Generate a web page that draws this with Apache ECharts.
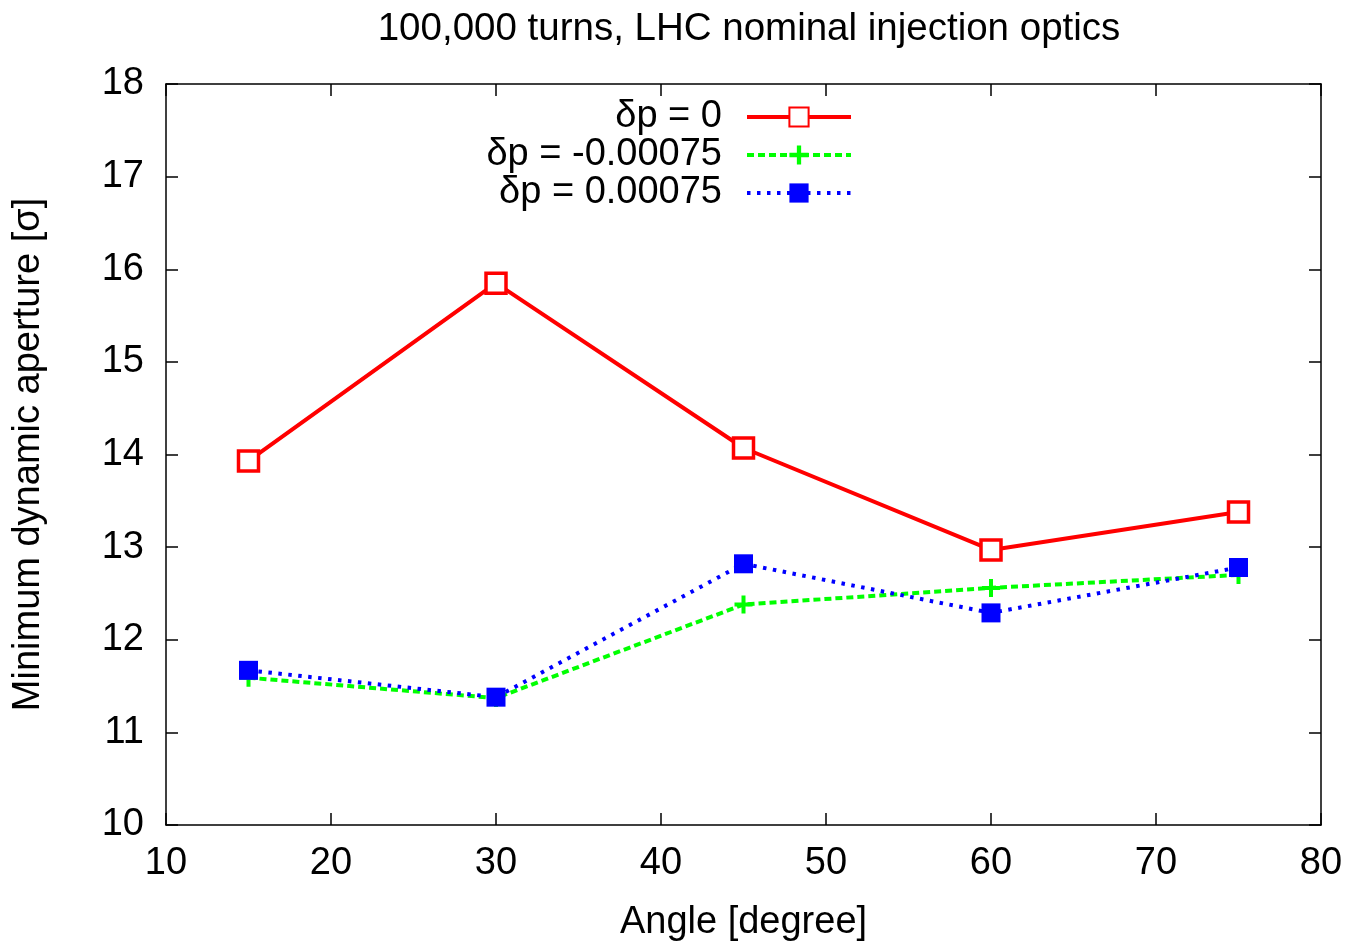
<!DOCTYPE html>
<html><head><meta charset="utf-8">
<script src="https://cdn.jsdelivr.net/npm/echarts@6/dist/echarts.min.js"></script>
<style>html,body{margin:0;padding:0;background:#fff}#c{width:1351px;height:947px}</style>
</head><body><div id="c"></div>
<script>
const angles = [15, 30, 45, 60, 75];
const dp0 = [13.93, 15.85, 14.07, 12.97, 13.38];
const dpMinus = [11.59, 11.37, 12.38, 12.56, 12.70];
const dpPlus = [11.67, 11.38, 12.82, 12.29, 12.78];
const seriesNames = ['δp = 0', 'δp = -0.00075', 'δp = 0.00075'];
const titleText = '100,000 turns, LHC nominal injection optics';
const xName = 'Angle [degree]';
const yName = 'Minimum dynamic aperture [σ]';

const FONT = '"Liberation Sans", Arial, sans-serif';
const FS = 38;
const pair = (xs, ys) => xs.map((x, i) => [x, ys[i]]);
const plus = 'path://M-2,-9H2V-2H9V2H2V9H-2V2H-9V-2H-2Z';

const axisCommon = {
  axisLine: {show: true, lineStyle: {color: '#000', width: 1.5}},
  axisTick: {show: true, inside: true, length: 12, lineStyle: {color: '#000', width: 1.5}},
  splitLine: {show: false},
  axisLabel: {color: '#000', fontSize: FS, fontFamily: FONT}
};

const styles = [
  {line: {color: '#ff0000', width: 4, type: 'solid'}},
  {line: {color: '#00ff00', width: 4, type: [7, 4]}},
  {line: {color: '#0000ff', width: 4, type: [3.5, 6.5]}}
];

const chart = echarts.init(document.getElementById('c'), null, {renderer: 'canvas'});
chart.setOption({
  backgroundColor: '#fff',
  animation: false,
  title: {
    text: titleText, left: 744, top: 5, textAlign: 'center',
    textStyle: {fontSize: 38.5, fontWeight: 'normal', color: '#000', fontFamily: FONT}
  },
  grid: {left: 166, right: 30, top: 84, bottom: 119},
  legend: {
    orient: 'vertical', right: 493, top: 93, align: 'right',
    itemWidth: 104, itemHeight: 24, itemGap: 0,
    textStyle: {fontSize: FS, lineHeight: 38, color: '#000', fontFamily: FONT, padding: [0, 20, 0, 0]},
    data: seriesNames.map((n) => ({name: n, lineStyle: {width: 4}}))
  },
  xAxis: [
    Object.assign({}, axisCommon, {
      type: 'value', min: 10, max: 80, interval: 10, position: 'bottom',
      name: xName, nameLocation: 'middle', nameGap: 79,
      nameTextStyle: {fontSize: FS, color: '#000', fontFamily: FONT},
      axisLabel: Object.assign({}, axisCommon.axisLabel, {margin: 20})
    }),
    Object.assign({}, axisCommon, {
      type: 'value', min: 10, max: 80, interval: 10, position: 'top',
      axisLabel: {show: false}
    })
  ],
  yAxis: [
    Object.assign({}, axisCommon, {
      type: 'value', min: 10, max: 18, interval: 1, position: 'left',
      name: yName, nameLocation: 'middle', nameGap: 118,
      nameTextStyle: {fontSize: FS, color: '#000', fontFamily: FONT},
      axisLabel: Object.assign({}, axisCommon.axisLabel, {margin: 22})
    }),
    Object.assign({}, axisCommon, {
      type: 'value', min: 10, max: 18, interval: 1, position: 'right',
      axisLabel: {show: false}
    })
  ],
  series: [
    {
      name: seriesNames[0], type: 'line', data: pair(angles, dp0),
      symbol: 'rect', symbolSize: 20,
      lineStyle: styles[0].line,
      itemStyle: {color: '#fff', borderColor: '#ff0000', borderWidth: 3.5},
      z: 3
    },
    {
      name: seriesNames[1], type: 'line', data: pair(angles, dpMinus),
      symbol: plus, symbolSize: 18,
      lineStyle: styles[1].line,
      itemStyle: {color: '#00ff00', borderWidth: 0},
      z: 2
    },
    {
      name: seriesNames[2], type: 'line', data: pair(angles, dpPlus),
      symbol: 'rect', symbolSize: 19,
      lineStyle: styles[2].line,
      itemStyle: {color: '#0000ff', borderWidth: 0},
      z: 4
    }
  ]
});
</script></body></html>
